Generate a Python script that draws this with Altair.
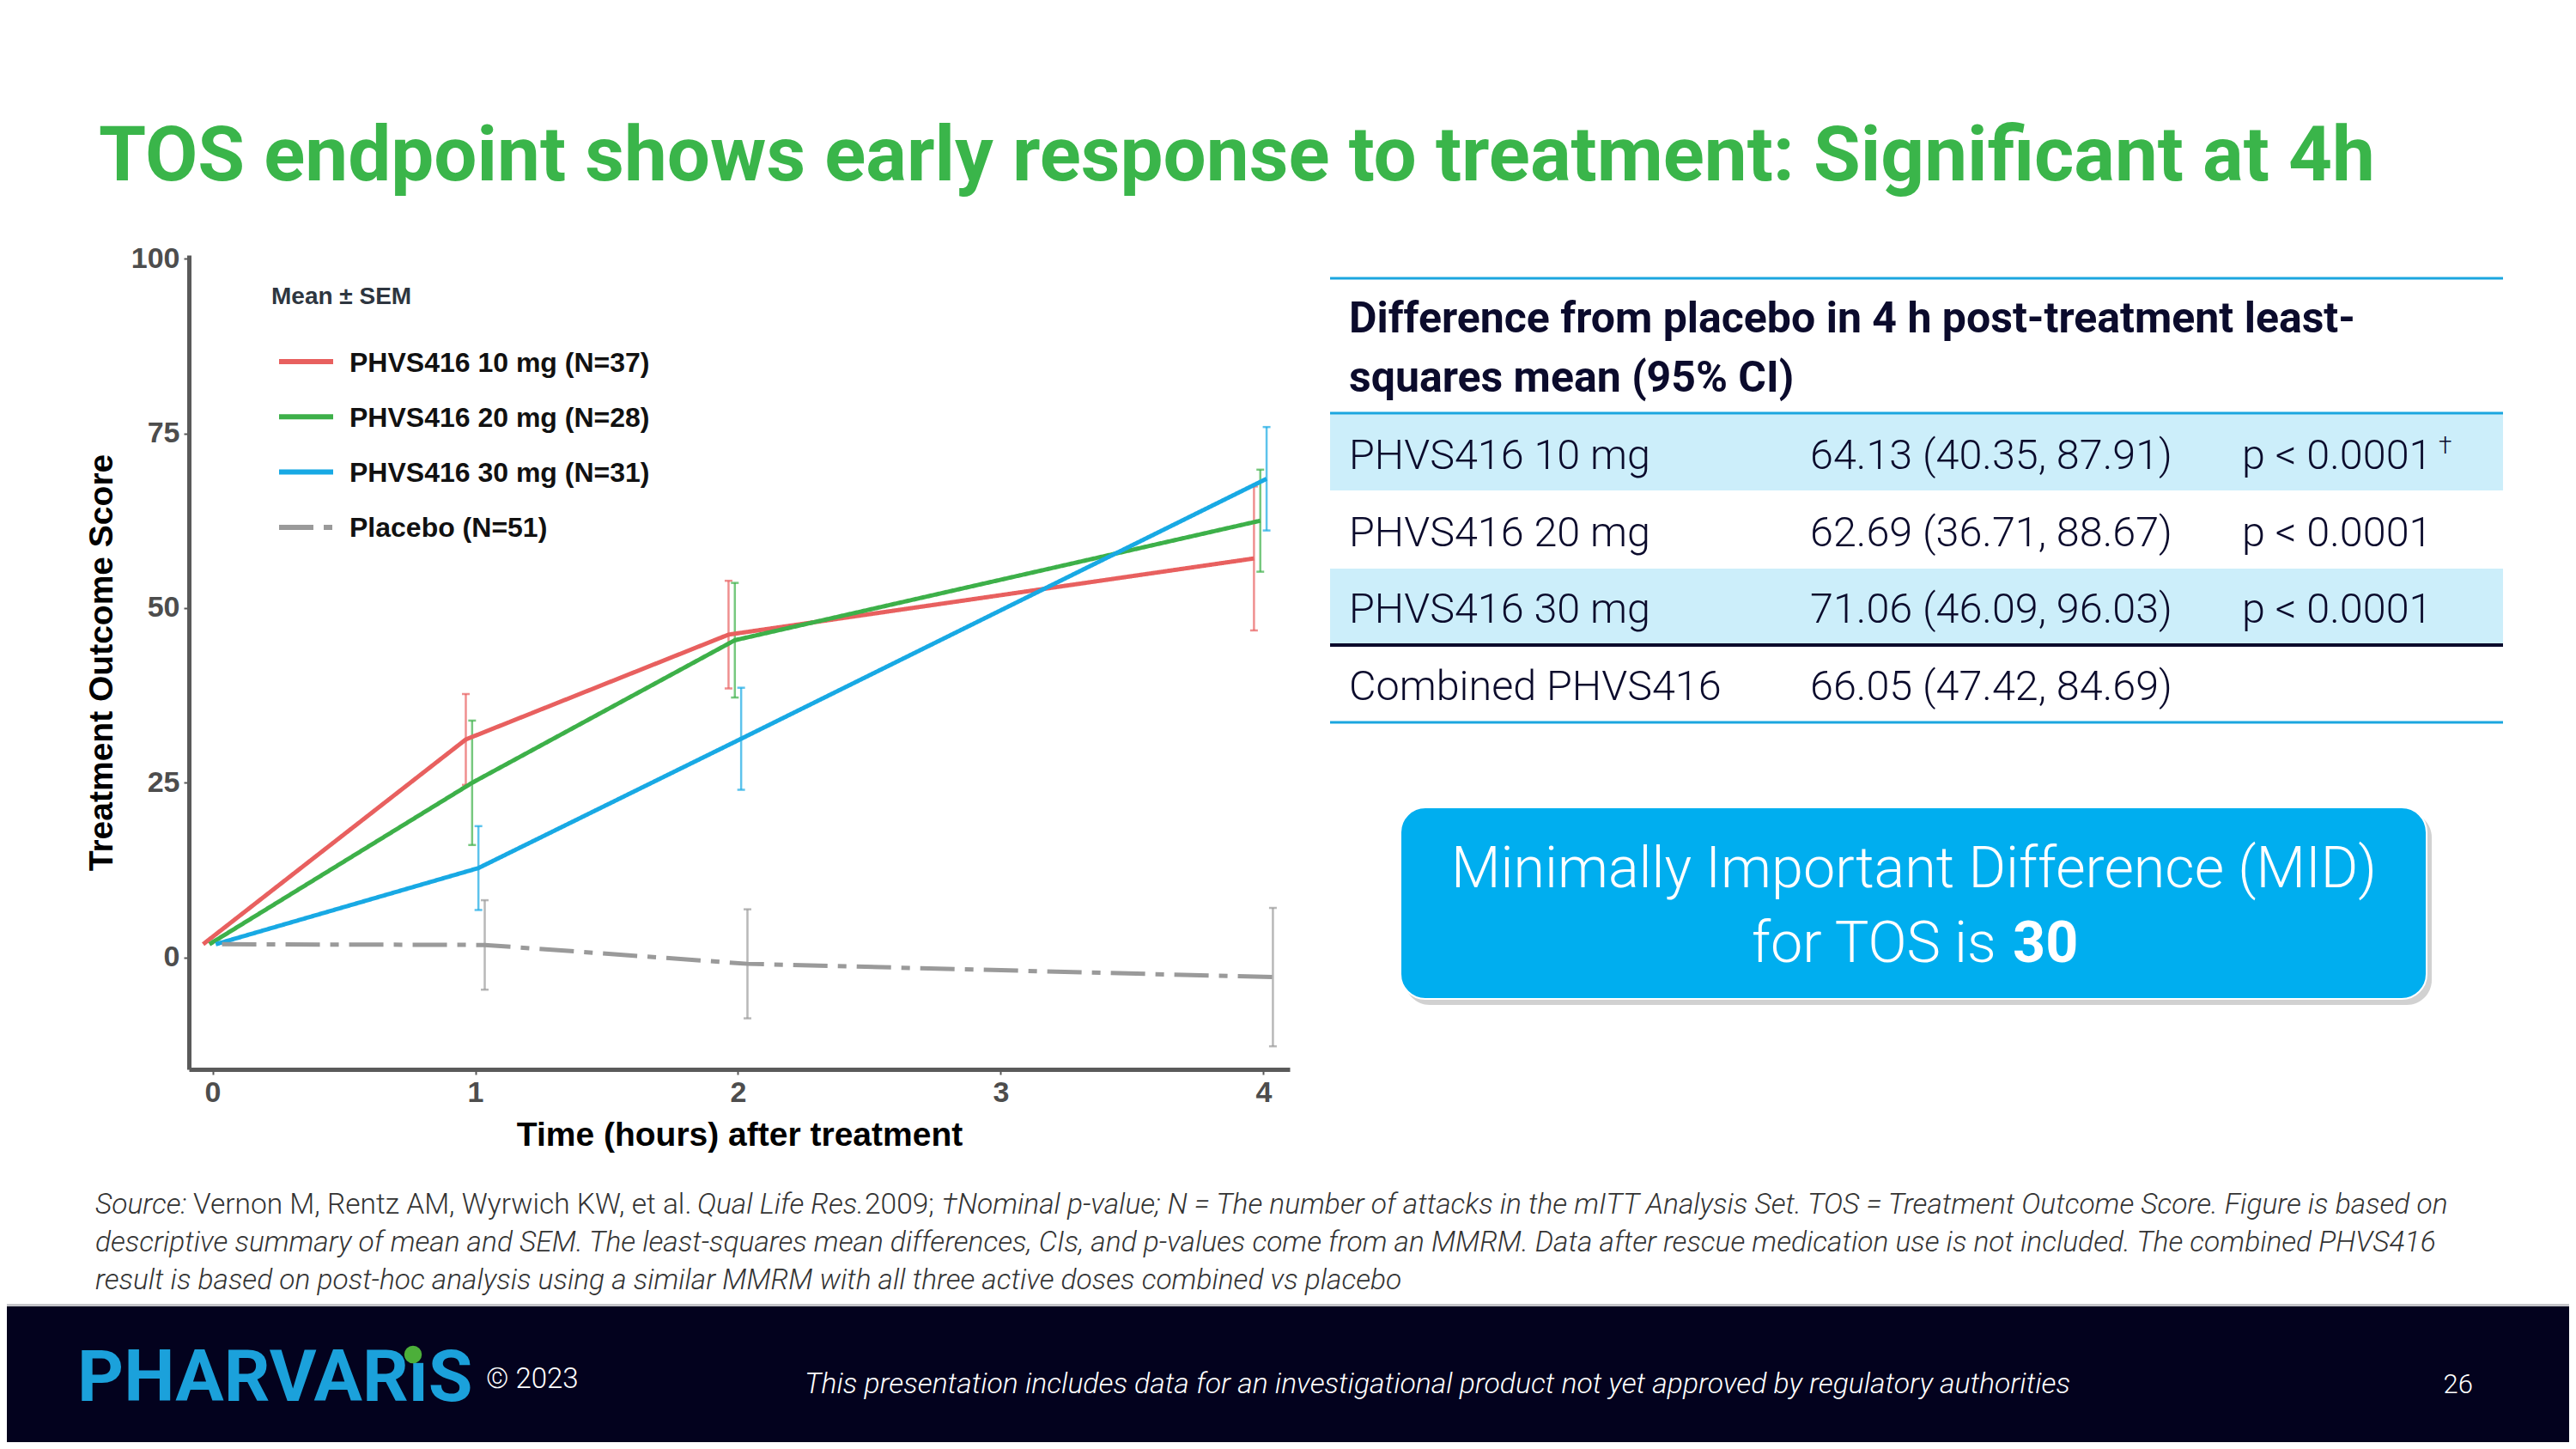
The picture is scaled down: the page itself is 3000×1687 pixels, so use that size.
import altair as alt
import pandas as pd

# ---------------- data ----------------
series = ["PHVS416 10 mg (N=37)", "PHVS416 20 mg (N=28)", "PHVS416 30 mg (N=31)", "Placebo (N=51)"]
colors = ["#E8605F", "#3DB049", "#18A9E4", "#9A9A9A"]
dashes = [[1, 0], [1, 0], [1, 0], [40, 12, 10, 12]]
times = [0, 1, 2, 4]
mean_10 = [1.9, 31.2, 46.2, 57.1]
sem_10 = [0.0, 6.5, 7.7, 10.3]
mean_20 = [1.9, 25.0, 45.4, 62.5]
sem_20 = [0.0, 8.9, 8.2, 7.3]
mean_30 = [1.9, 12.8, 31.3, 68.5]
sem_30 = [0.0, 6.0, 7.3, 7.4]
mean_pbo = [1.9, 1.8, -0.9, -2.8]
sem_pbo = [0.0, 6.4, 7.8, 9.9]

x_ticks = [0, 1, 2, 3, 4]
y_ticks = [0, 25, 50, 75, 100]
legend_title = "Mean ± SEM"

title_text = "TOS endpoint shows early response to treatment: Significant at 4h"
table_header = ["Difference from placebo in 4 h post-treatment least-", "squares mean (95% CI)"]
table_groups = ["PHVS416 10 mg", "PHVS416 20 mg", "PHVS416 30 mg", "Combined PHVS416"]
table_estimates = ["64.13 (40.35, 87.91)", "62.69 (36.71, 88.67)", "71.06 (46.09, 96.03)", "66.05 (47.42, 84.69)"]
table_pvalues = ["p < 0.0001", "p < 0.0001", "p < 0.0001", ""]
mid_line1 = "Minimally Important Difference (MID)"
mid_line2 = "for TOS is"
mid_value = "30"
foot1 = [("Source:", "italic"), ("Vernon M, Rentz AM, Wyrwich KW, et al.", "normal"),
         ("Qual Life Res.", "italic"), ("2009;", "normal"),
         ("†Nominal p-value; N = The number of attacks in the mITT Analysis Set. TOS = Treatment Outcome Score. Figure is based on", "italic")]
foot2 = "descriptive summary of mean and SEM. The least-squares mean differences, CIs, and p-values come from an MMRM. Data after rescue medication use is not included. The combined PHVS416"
foot3 = "result is based on post-hoc analysis using a similar MMRM with all three active doses combined vs placebo"
logo_text = "PHARVAR\u0131S"
copyright_text = "© 2023"
disclaimer = "This presentation includes data for an investigational product not yet approved by regulatory authorities"
page_no = "26"

# ---------------- layout helpers ----------------
OX, OY = 220, 297          # page position of the plot area's top-left corner
W, H = 1282, 948           # plot area
PAD = {"left": OX - 8, "top": OY - 8, "right": 2984 - (OX - 8) - W, "bottom": 1671 - (OY - 8) - H}


def txt(text, X, Y, size, color, weight=300, style="normal", align="left", font="Roboto"):
    return alt.Chart(pd.DataFrame({"t": [text]})).mark_text(
        align=align, baseline="alphabetic", font=font, fontSize=size,
        fontWeight=weight, fontStyle=style, color=color
    ).encode(text="t:N", x=alt.value(X - OX), y=alt.value(Y - OY))


def box(X1, X2, Y1, Y2, color, **kw):
    return alt.Chart(pd.DataFrame({"a": [0]})).mark_rect(color=color, **kw).encode(
        x=alt.value(X1 - OX), x2=alt.value(X2 - OX), y=alt.value(Y1 - OY), y2=alt.value(Y2 - OY))


# ---------------- main chart ----------------
rows = []
for k, (s, m, e) in enumerate(zip(series, [mean_10, mean_20, mean_30, mean_pbo],
                                  [sem_10, sem_20, sem_30, sem_pbo])):
    for t, mv, ev in zip(times, m, e):
        rows.append({"series": s, "k": k, "time": t, "mean": mv, "sem": ev})
df = pd.DataFrame(rows)

base = alt.Chart(df).transform_calculate(
    xd="datum.time + (datum.k - 1.5) * 0.024",
    lo="datum.mean - datum.sem",
    hi="datum.mean + datum.sem",
)

xscale = alt.Scale(domain=[-0.09, 4.1], nice=False, zero=False)
yscale = alt.Scale(domain=[-16, 100.5], nice=False, zero=False)
axis_common = dict(grid=False, labelFont="Liberation Sans", labelFontWeight="bold", labelFontSize=34,
                   labelColor="#4D4D4D", domainColor="#5A5A5A", domainWidth=5, tickColor="#5A5A5A",
                   tickWidth=2, tickSize=6, titleFont="Liberation Sans", titleFontWeight="bold",
                   titleFontSize=39, titleColor="#000000")
xaxis = alt.Axis(values=x_ticks, format="d", title="Time (hours) after treatment",
                 labelPadding=4, titlePadding=13, **axis_common)
yaxis = alt.Axis(values=y_ticks, format="d", title="Treatment Outcome Score",
                 labelPadding=5, titlePadding=14, **axis_common)

color_scale = alt.Scale(domain=series, range=colors)
dash_scale = alt.Scale(domain=series, range=dashes)

errs = base.transform_filter("datum.time > 0").mark_errorbar(
    ticks=True, thickness=2.5, size=9, opacity=0.7
).encode(
    x=alt.X("xd:Q", scale=xscale, axis=xaxis),
    y=alt.Y("lo:Q", scale=yscale, axis=yaxis),
    y2="hi:Q",
    color=alt.Color("series:N", scale=color_scale, legend=None),
)

lines = base.mark_line(strokeWidth=5, strokeCap="butt").encode(
    x=alt.X("xd:Q", scale=xscale, axis=xaxis),
    y=alt.Y("mean:Q", scale=yscale, axis=yaxis),
    color=alt.Color("series:N", scale=color_scale, legend=None),
    strokeDash=alt.StrokeDash("series:N", scale=dash_scale, legend=None),
    order="time:Q",
)

# legend (drawn from the series list, same colour / dash scales)
legend_layers = [txt(legend_title, 316, 354, 28, "#2E3640", weight="bold", font="Liberation Sans")]
for i, s in enumerate(series):
    yc = 421 + i * 64.3
    legend_layers.append(
        alt.Chart(pd.DataFrame({"series": [s]})).mark_rule(strokeWidth=6, strokeCap="butt").encode(
            x=alt.value(325 - OX), x2=alt.value(388 - OX), y=alt.value(yc - OY),
            color=alt.Color("series:N", scale=color_scale, legend=None),
            strokeDash=alt.StrokeDash("series:N", scale=dash_scale, legend=None),
        ))
    legend_layers.append(txt(s, 407, yc + 11.5, 32, "#111111", weight="bold", font="Liberation Sans"))

# ---------------- slide decoration ----------------
NAVY = "#0B0B2C"
BLUE_LINE = "#1BA6DF"
layers = []

# title
layers.append(txt(title_text, 115, 210, 89, "#3AB54A", weight="bold"))

# table
TX1, TX2 = 1549, 2915
layers.append(box(TX1, TX2, 481, 571, "#CCEEFA"))
layers.append(box(TX1, TX2, 662, 750, "#CCEEFA"))
layers.append(box(TX1, TX2, 322.5, 325.5, BLUE_LINE))
layers.append(box(TX1, TX2, 479.5, 482.5, BLUE_LINE))
layers.append(box(TX1, TX2, 749, 753, NAVY))
layers.append(box(TX1, TX2, 839.5, 842.5, BLUE_LINE))
for i, line in enumerate(table_header):
    layers.append(txt(line, 1571, 387 + i * 69, 50, NAVY, weight="bold"))
for i, (g, e, p) in enumerate(zip(table_groups, table_estimates, table_pvalues)):
    yb = 546 + i * 89.7
    layers.append(txt(g, 1571, yb, 48.5, NAVY))
    layers.append(txt(e, 2108, yb, 48.5, NAVY))
    if p:
        layers.append(txt(p, 2611, yb, 48.5, NAVY))
layers.append(txt("†", 2840, 528, 28, NAVY))

# MID box
layers.append(box(1636, 2832, 946, 1170, "#9A9A9A", cornerRadius=29, opacity=0.45))
layers.append(box(1631, 2826, 940, 1163, "#00AEEF", cornerRadius=29, stroke="#FFFFFF", strokeWidth=2))
layers.append(txt(mid_line1, 2229, 1033, 66.5, "#FFFFFF", align="center"))
layers.append(txt(mid_line2, 2040, 1120, 66.5, "#FFFFFF"))
layers.append(txt(mid_value, 2344, 1120, 66.5, "#FFFFFF", weight="bold"))

# footnotes
FOOT = "#333333"
seg_x = [111, 225, 812, 1007, 1097]
for (s, st), X in zip(foot1, seg_x):
    layers.append(txt(s, X, 1413, 33.5, FOOT, style=st))
layers.append(txt(foot2, 111, 1457, 33.5, FOOT, style="italic"))
layers.append(txt(foot3, 111, 1501, 33.5, FOOT, style="italic"))

# footer band
layers.append(box(8, 2992, 1518, 1521, "#C4C4C8"))
layers.append(box(8, 2992, 1521, 1679, "#03021E"))
layers.append(txt(logo_text, 90, 1631, 84, "#1BA1DB", weight="bold"))
layers.append(alt.Chart(pd.DataFrame({"a": [0]})).mark_point(
    shape="circle", filled=True, size=420, color="#4CAF3A", opacity=1
).encode(x=alt.value(481 - OX), y=alt.value(1577 - OY)))
layers.append(txt(copyright_text, 566, 1616, 33, "#FFFFFF"))
layers.append(txt(disclaimer, 937, 1622, 33.7, "#FFFFFF", style="italic"))
layers.append(txt(page_no, 2880, 1622, 31, "#FFFFFF", align="right"))

chart = alt.layer(errs, lines, *legend_layers, *layers).properties(
    width=W, height=H,
    autosize=alt.AutoSizeParams(type="none"),
    padding=PAD,
    background="white",
).configure_view(stroke=None)

chart.save("out.html", embed_options={"renderer": "svg", "actions": False})
